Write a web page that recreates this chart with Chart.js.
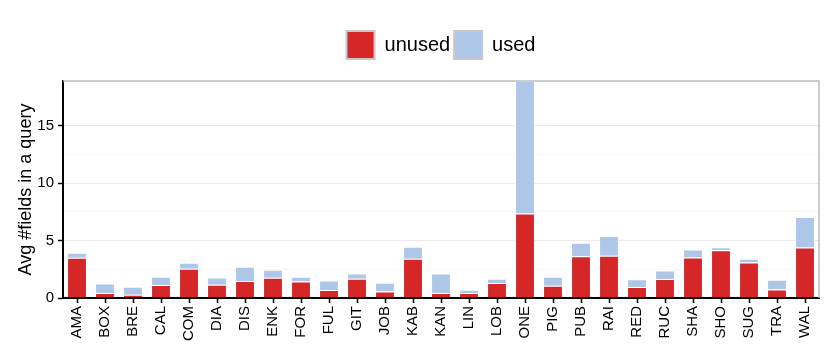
<!DOCTYPE html>
<html>
<head>
<meta charset="utf-8">
<script src="https://cdn.jsdelivr.net/npm/chart.js@4/dist/chart.umd.min.js"></script>
<style>
  html, body { margin: 0; padding: 0; background: #fff; }
  #wrap { width: 830px; height: 356px; }
</style>
</head>
<body>
<div id="wrap"><canvas id="chart" width="830" height="356"></canvas></div>
<script>
const categories = ['AMA', 'BOX', 'BRE', 'CAL', 'COM', 'DIA', 'DIS', 'ENK', 'FOR', 'FUL', 'GIT', 'JOB', 'KAB',
    'KAN', 'LIN', 'LOB', 'ONE', 'PIG', 'PUB', 'RAI', 'RED', 'RUC', 'SHA', 'SHO', 'SUG', 'TRA', 'WAL'];
const unusedFields = [3.50, 0.43, 0.29, 1.13, 2.54, 1.15, 1.47, 1.76, 1.44, 0.69, 1.67, 0.57, 3.41,
    0.43, 0.43, 1.30, 7.34, 1.07, 3.64, 3.67, 0.95, 1.65, 3.53, 4.16, 3.09, 0.75, 4.39];
const usedFields = [0.43, 0.84, 0.69, 0.72, 0.52, 0.64, 1.24, 0.69, 0.41, 0.84, 0.47, 0.76, 1.04,
    1.71, 0.29, 0.37, 11.53, 0.78, 1.16, 1.73, 0.67, 0.75, 0.69, 0.26, 0.32, 0.84, 2.66];
const seriesNames = ['unused', 'used'];
const yTickStep = 2.5;

const font = '"Liberation Sans", Arial, Helvetica, sans-serif';
const yMax = Math.max(...unusedFields.map((v, i) => v + usedFields[i]));

// grey frame on top/right like the panel border, and legend tweaks
const framePlugin = {
    id: 'frame',
    beforeInit(chart) {
        const legend = chart.legend;
        const origFit = legend.fit;
        legend.fit = function () {
            origFit.call(this);
            this.height += 12;
        };
    },
    afterLayout(chart) {
        // center the legend over the plot panel
        const area = chart.chartArea;
        chart.legend.left = area.left;
        chart.legend.right = area.right;
        chart.legend.width = area.right - area.left;
    },
    afterDatasetsDraw(chart) {
        const {ctx, chartArea: a} = chart;
        ctx.save();
        ctx.strokeStyle = '#bdbdbd';
        ctx.lineWidth = 1.5;
        ctx.beginPath();
        ctx.moveTo(a.left, a.top);
        ctx.lineTo(a.right, a.top);
        ctx.lineTo(a.right, a.bottom);
        ctx.stroke();
        ctx.restore();
    }
};

const ctx = document.getElementById('chart').getContext('2d');
new Chart(ctx, {
    type: 'bar',
    data: {
        labels: categories,
        datasets: [{
            label: seriesNames[0],
            data: unusedFields,
            backgroundColor: '#d62728',
            borderColor: 'rgba(255,255,255,0.35)',
            borderWidth: 1
        }, {
            label: seriesNames[1],
            data: usedFields,
            backgroundColor: '#aec7e8',
            borderColor: 'rgba(255,255,255,0.35)',
            borderWidth: 1
        }]
    },
    options: {
        responsive: false,
        animation: false,
        devicePixelRatio: 1,
        layout: { padding: { top: 27, right: 11, bottom: 0, left: 0 } },
        datasets: { bar: { barPercentage: 0.71, categoryPercentage: 1 } },
        plugins: {
            tooltip: { enabled: false },
            legend: {
                position: 'top',
                align: 'center',
                labels: {
                    boxWidth: 28,
                    boxHeight: 28,
                    padding: 4,
                    color: '#000',
                    font: { family: font, size: 20 },
                    generateLabels(chart) {
                        const items = Chart.defaults.plugins.legend.labels.generateLabels(chart);
                        return items.map(it => Object.assign(it, { strokeStyle: '#c8c8c8', lineWidth: 2 }));
                    }
                }
            }
        },
        scales: {
            x: {
                stacked: true,
                afterFit(scale) { scale.height = 58; },
                grid: {
                    offset: false,
                    drawOnChartArea: false,
                    tickColor: '#000',
                    tickLength: 5,
                    tickWidth: 1.5
                },
                border: { color: '#000', width: 2 },
                ticks: {
                    color: '#000',
                    font: { family: font, size: 15 },
                    minRotation: 90,
                    maxRotation: 90,
                    padding: 3,
                    autoSkip: false
                }
            },
            y: {
                stacked: true,
                min: 0,
                max: yMax,
                afterFit(scale) { scale.width = 63; },
                title: {
                    display: true,
                    text: 'Avg #fields in a query',
                    color: '#000',
                    font: { family: font, size: 18 },
                    padding: { top: 15, bottom: 0 }
                },
                grid: {
                    color: c => (c.tick && Math.abs(c.tick.value % 5) < 1e-9) ? '#ebebeb' : '#f6f6f6',
                    tickColor: c => (c.tick && Math.abs(c.tick.value % 5) < 1e-9) ? '#000' : 'rgba(0,0,0,0)',
                    tickLength: 5,
                    tickWidth: 1.5,
                    lineWidth: 1
                },
                border: { color: '#000', width: 2 },
                ticks: {
                    stepSize: yTickStep,
                    color: '#000',
                    padding: 4,
                    font: { family: font, size: 15 },
                    callback: v => (Math.abs(v % 5) < 1e-9 ? v : '')
                }
            }
        }
    },
    plugins: [framePlugin]
});
</script>
</body>
</html>
